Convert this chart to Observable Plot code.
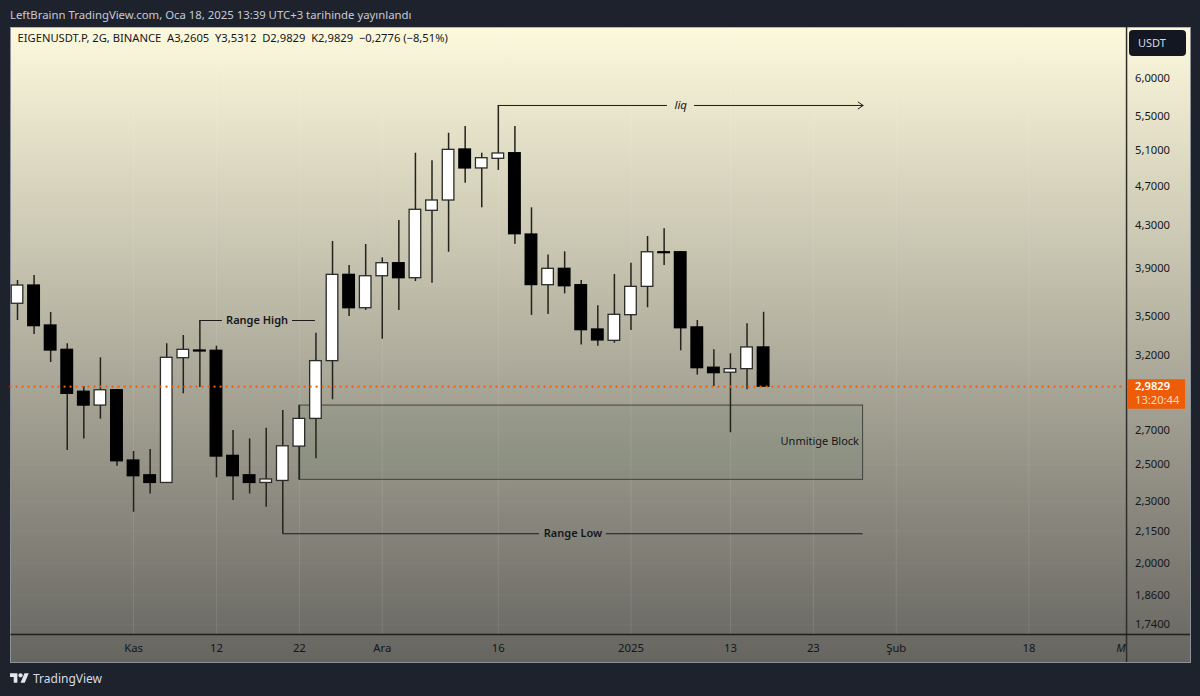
<!DOCTYPE html>
<html><head><meta charset="utf-8">
<script src="https://cdn.jsdelivr.net/npm/d3@7"></script>
<script src="https://cdn.jsdelivr.net/npm/@observablehq/plot@0.6"></script>
<style>
html,body{margin:0;padding:0;background:#1e222d;width:1200px;height:696px;overflow:hidden;font-family:"Noto Sans",sans-serif}
#head{height:27px;line-height:29px;padding-left:10px;color:#c6cad3;font-size:11.35px;white-space:nowrap}
#chart{position:relative;height:635px;width:1200px}
#panel{position:absolute;left:10px;top:0;width:1179px;height:634px;border:1px solid #8d919a;border-top-color:#b9b8a8;background:linear-gradient(180deg,#fdf9dd 0%,#666560 100%);box-sizing:content-box}
#chart svg{position:absolute;left:0;top:0;background:transparent}
#usdt{position:absolute;left:1129px;top:3px;width:57px;height:26px;border-radius:4px;background:#131722;color:#d5d9e2;font-size:11px;line-height:26px;text-indent:9px}
#foot{position:relative;height:34px;color:#d9dbe2;font-size:12px}
#foot svg{position:absolute;left:10px;top:11px}
#foot span{position:absolute;left:33px;top:8px}
</style></head><body>
<div id="head"></div>
<div id="chart"><div id="panel"></div></div>
<div id="foot"><svg width="19" height="10" viewBox="0 4 36 18" fill="#e4e6eb"><path d="M14 22H7V11H0V4h14v18zM28 22h-8l7.5-18h8L28 22z"/><circle cx="20" cy="8" r="4"/></svg><span>TradingView</span></div>
<script>
const headline = "LeftBrainn TradingView.com, Oca 18, 2025 13:39 UTC+3 tarihinde yayınlandı";
const legendText = "EIGENUSDT.P, 2G, BINANCE\u00a0\u00a0A3,2605\u00a0\u00a0Y3,5312\u00a0\u00a0D2,9829\u00a0\u00a0K2,9829\u00a0\u00a0−0,2776 (−8,51%)";
const countdown = "13:20:44";

const open  = [3.600,3.752,3.427,3.243,2.949,2.858,2.959,2.523,2.440,2.398,3.182,3.238,3.236,2.550,2.440,2.398,2.409,2.604,2.773,3.161,3.844,3.564,3.832,3.947,3.815,4.445,4.550,5.108,4.893,5.001,5.065,4.212,3.755,3.897,3.755,3.396,3.310,3.508,3.741,4.046,4.046,3.412,3.114,3.079,3.104,3.2605];
const close = [3.752,3.422,3.238,2.935,2.858,2.959,2.519,2.435,2.398,3.185,3.243,3.231,2.546,2.435,2.398,2.417,2.606,2.773,3.161,3.844,3.564,3.832,3.947,3.815,4.455,4.550,5.104,4.893,5.008,5.062,4.215,3.756,3.897,3.746,3.391,3.313,3.511,3.741,4.046,4.038,3.406,3.111,3.076,3.104,3.2605,2.9829];
const high  = [3.795,3.838,3.530,3.288,2.984,3.185,2.962,2.575,2.587,3.288,3.350,3.466,3.270,2.701,2.650,2.715,2.826,2.858,3.368,4.146,3.926,4.118,3.995,4.348,5.065,4.979,5.300,5.381,5.065,5.644,5.381,4.475,4.022,4.050,3.795,3.584,3.847,3.947,4.193,4.267,4.050,3.466,3.243,3.214,3.440,3.5312];
const low   = [3.466,3.358,3.151,2.581,2.650,2.771,2.490,2.244,2.339,2.397,2.935,2.978,2.426,2.304,2.339,2.270,2.137,2.415,2.533,2.896,3.498,3.546,3.322,3.546,3.786,3.772,4.046,4.732,4.475,4.871,4.121,3.506,3.514,3.682,3.278,3.270,3.292,3.389,3.568,3.926,3.236,3.062,2.984,2.687,2.962,2.9829];

const priceTicks = [6,5.5,5.1,4.7,4.3,3.9,3.5,3.2,2.7,2.5,2.3,2.15,2,1.86,1.74];
const timeTickBars = [7,12,17,22,29,37,43,48,53,61];
const timeTickLabels = ["Kas","12","22","Ara","16","2025","13","23","Şub","18"];

const rangeHigh = 3.466, rangeLow = 2.137, liqLevel = 5.644;
const blockTop = 2.858, blockBottom = 2.415;
const lastClose = close[close.length-1];

document.getElementById("head").textContent = headline;

const candles = d3.range(open.length).map(i => ({i, o:open[i], c:close[i], h:high[i], l:low[i], up:close[i]>=open[i]}));
const fmt = v => v.toFixed(4).replace(".",",");
const INK = "#14161c";
const FONT = '"Noto Sans",sans-serif';
const axisBar = 66.89, plotFloor = 1.7006, plotLeft = -0.39;

const plot = Plot.plot({
  width:1200, height:635, margin:0,
  style:{background:"transparent", fontFamily:FONT},
  x:{type:"linear", domain:[-1.0253,71.35], range:[0,1200], axis:null},
  y:{type:"log", domain:[1.596,6.7357], range:[635,0], axis:null},
  marks:[
    // grid
    Plot.ruleX(timeTickBars,{x:d=>d, y1:6.7357, y2:plotFloor, stroke:"#fff", strokeOpacity:0.1, strokeWidth:1}),
    Plot.ruleY(priceTicks,{y:d=>d, x1:plotLeft, x2:axisBar, stroke:"#fff", strokeOpacity:0.04, strokeWidth:1}),
    // block
    Plot.rect([0],{x1:()=>17, x2:()=>51, y1:()=>blockBottom, y2:()=>blockTop, fill:"#5d7f60", fillOpacity:0.14, stroke:"#2b2f2a", strokeOpacity:0.8, strokeWidth:1}),
    // annotations
    Plot.ruleY([rangeHigh],{y:d=>d, x1:11, x2:12.36, stroke:"#1c1c1c", strokeWidth:1}),
    Plot.ruleY([rangeHigh],{y:d=>d, x1:16.59, x2:17.97, stroke:"#1c1c1c", strokeWidth:1}),
    Plot.ruleY([liqLevel],{y:d=>d, x1:29, x2:39.2, stroke:"#1c1c1c", strokeWidth:1}),
    Plot.arrow([0],{x1:()=>40.83, x2:()=>51, y1:()=>liqLevel, y2:()=>liqLevel, stroke:"#1c1c1c", strokeWidth:1, headLength:9, headAngle:70}),
    Plot.ruleY([rangeLow],{y:d=>d, x1:16, x2:31.48, stroke:"#1c1c1c", strokeWidth:1.2}),
    Plot.ruleY([rangeLow],{y:d=>d, x1:35.52, x2:51, stroke:"#1c1c1c", strokeWidth:1.2}),
    // wicks and bodies
    Plot.ruleX(candles,{x:"i", y1:"l", y2:"h", stroke:"#23231c", strokeWidth:1.5}),
    Plot.rect(candles,{x1:d=>d.i-0.35, x2:d=>d.i+0.35, y1:"o", y2:"c", fill:d=>d.up?"#fff":"#000", stroke:d=>d.up?"#2b2b28":"#000", strokeWidth:1.3}),
    // last price
    Plot.ruleY([lastClose],{y:d=>d, x1:plotLeft, x2:axisBar, stroke:"#f0600f", strokeWidth:2.2, strokeLinecap:"round", strokeDasharray:"0.1,5.9"}),
    // axis separators
    Plot.ruleX([axisBar],{x:d=>d, stroke:"#2e2e2a", strokeWidth:1.5}),
    Plot.ruleY([plotFloor],{y:d=>d, x1:plotLeft, x2:70.75, stroke:"#1f1f1c", strokeWidth:1.5}),
    // price labels
    Plot.text(priceTicks,{y:d=>d, x:()=>67.4, text:fmt, textAnchor:"start", fill:INK, fontSize:11.2}),
    Plot.ruleY([lastClose],{y:d=>d, x1:66.95, x2:70.45, dy:7.3, stroke:"#ee5c08", strokeWidth:29.7}),
    Plot.text([lastClose],{y:d=>d, x:()=>67.4, text:fmt, textAnchor:"start", fill:"#fff", fontSize:11.2, fontWeight:600}),
    Plot.text([lastClose],{y:d=>d, x:()=>67.4, dy:14, text:()=>countdown, textAnchor:"start", fill:"#ffdcc0", fontSize:11.2}),
    // time labels
    Plot.text(timeTickBars,{x:d=>d, text:(d,i)=>timeTickLabels[i], frameAnchor:"bottom", lineAnchor:"middle", dy:-14, fill:INK, fontSize:11.3}),
    Plot.text(["M"],{x:()=>66.85, frameAnchor:"bottom", lineAnchor:"middle", dy:-14, textAnchor:"end", fill:INK, fontSize:11.3, fontStyle:"italic"}),
    // annotation text
    Plot.text(["Range High"],{x:()=>14.45, y:()=>rangeHigh, fill:INK, fontSize:11, fontWeight:600}),
    Plot.text(["Range Low"],{x:()=>33.5, y:()=>rangeLow, fill:INK, fontSize:11, fontWeight:600}),
    Plot.text(["liq"],{x:()=>40, y:()=>liqLevel, fill:INK, fontSize:11.5, fontStyle:"italic"}),
    Plot.text(["Unmitige Block"],{x:()=>50.75, y:()=>2.634, textAnchor:"end", fill:INK, fontSize:11}),
    // legend
    Plot.text([legendText],{frameAnchor:"top-left", dx:17, dy:7, fill:INK, fontSize:11.2, lineAnchor:"top"})
  ]
});
const chart = document.getElementById("chart");
chart.appendChild(plot);
const u = document.createElement("div"); u.id="usdt"; u.textContent="USDT"; chart.appendChild(u);
</script>
</body></html>
